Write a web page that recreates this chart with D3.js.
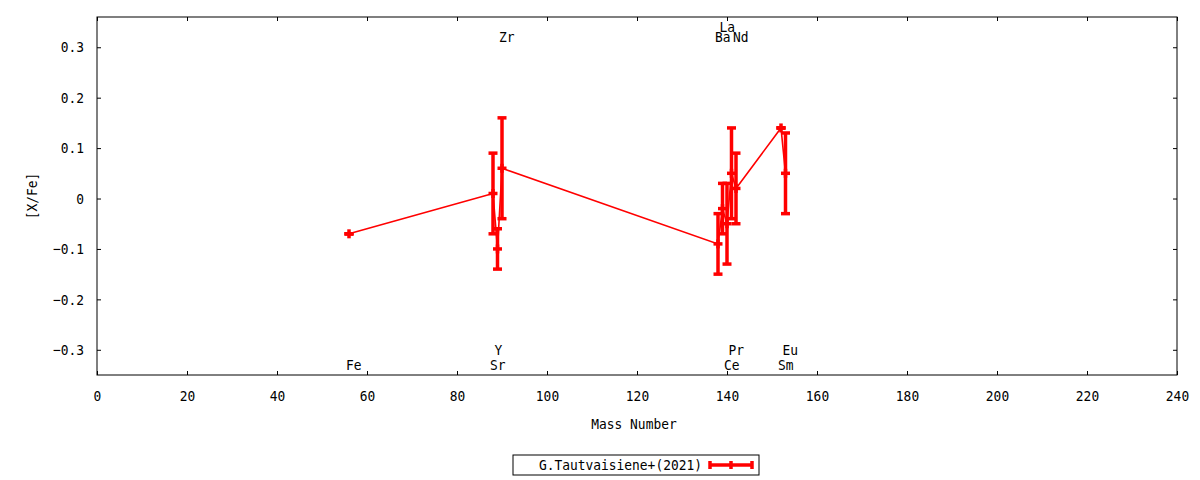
<!DOCTYPE html>
<html>
<head>
<meta charset="utf-8">
<script src="https://cdn.jsdelivr.net/npm/d3@7"></script>
<style>
  body { margin:0; background:#fff; }
  text { font-family:"DejaVu Sans Mono", monospace; font-size:14.5px; fill:#000; }
</style>
</head>
<body>
<svg></svg>
<script>
// values
var elements    = ["Fe","Sr","Y","Zr","Ba","La","Ce","Pr","Nd","Sm","Eu"]
var massNumbers = [56, 88, 89, 90, 138, 139, 140, 141, 142, 152, 153]
var xfeValues   = [-0.07, 0.01, -0.10, 0.06, -0.09, -0.02, -0.05, 0.05, 0.02, 0.14, 0.05]
var xfeErrors   = [0, 0.08, 0.04, 0.10, 0.06, 0.05, 0.08, 0.09, 0.07, 0, 0.08]
// which height the element name sits at (in [X/Fe] units)
var labelRows   = [-0.33, -0.33, -0.30, 0.32, 0.32, 0.34, -0.33, -0.30, 0.32, -0.33, -0.30]
var xTicks = [0,20,40,60,80,100,120,140,160,180,200,220,240]
var yTicks = [-0.3,-0.2,-0.1,0,0.1,0.2,0.3]
var seriesName = "G.Tautvaisiene+(2021)"

var mainCode = function(){
    var screen = {width:1200, height:480}
    var margins = {top:17, right:23, bottom:105, left:97}
    var width = screen.width - margins.left - margins.right
    var height = screen.height - margins.top - margins.bottom
    var red = "#ff0000"

    var svg = d3.select("svg")
        .attr("width", screen.width)
        .attr("height", screen.height)

    var xScale = d3.scaleLinear().domain([0,240]).range([0,width])
    var yScale = d3.scaleLinear().domain([-0.35,0.36]).range([height,0])

    var graph = svg.append("g")
        .attr("id","graph")
        .attr("transform","translate("+margins.left+","+margins.top+")")

    //axes, ticks point inward like gnuplot
    var xAxis = d3.axisBottom(xScale).tickValues(xTicks).tickSize(-4).tickPadding(16)
        .tickFormat(d3.format("d"))
    var yAxis = d3.axisLeft(yScale).tickValues(yTicks).tickSize(-4).tickPadding(13)
        .tickFormat(function(d){return d==0 ? "0" : d3.format(".1f")(d)})
    var xTop = d3.axisTop(xScale).tickValues(xTicks).tickSize(-4).tickFormat("")
    var yRight = d3.axisRight(yScale).tickValues(yTicks).tickSize(-4).tickFormat("")

    graph.append("g").attr("transform","translate(0,"+height+")").call(xAxis)
    graph.append("g").call(yAxis)
    graph.append("g").call(xTop)
    graph.append("g").attr("transform","translate("+width+",0)").call(yRight)
    graph.selectAll(".domain").remove()
    graph.selectAll(".tick line").attr("stroke","#000")
    graph.selectAll(".tick text").style("font-size","14.5px").style("font-family","DejaVu Sans Mono")

    graph.append("rect")
        .attr("width",width).attr("height",height)
        .attr("fill","none").attr("stroke","#000").attr("stroke-width",1)

    //axis titles
    svg.append("text")
        .attr("x", margins.left + width/2 - 3)
        .attr("y", 429)
        .attr("text-anchor","middle")
        .text("Mass Number")
    svg.append("text")
        .attr("transform","translate(37,196) rotate(-90)")
        .attr("text-anchor","middle")
        .text("[X/Fe]")

    var points = elements.map(function(el,i){
        return {name:el, mass:massNumbers[i], val:xfeValues[i], err:xfeErrors[i], row:labelRows[i]}
    })

    //element names
    graph.selectAll(".elabel")
        .data(points)
        .enter()
        .append("text")
        .attr("class","elabel")
        .attr("x", function(p){return xScale(p.mass) - 3})
        .attr("y", function(p){return yScale(p.row)})
        .attr("dy","0.35em")
        .text(function(p){return p.name})

    //connecting line
    var lineGenerator = d3.line()
        .x(function(p){return xScale(p.mass)})
        .y(function(p){return yScale(p.val)})
    graph.append("path")
        .datum(points)
        .attr("d", lineGenerator)
        .attr("fill","none")
        .attr("stroke", red)
        .attr("stroke-width", 1.6)

    //error bars + the plus point marker
    var bars = graph.selectAll(".ebar")
        .data(points)
        .enter()
        .append("g")
        .attr("class","ebar")
        .attr("stroke", red)
        .attr("stroke-width", 3.5)

    bars.append("line")
        .attr("x1", function(p){return xScale(p.mass)})
        .attr("x2", function(p){return xScale(p.mass)})
        .attr("y1", function(p){return yScale(p.val - p.err)})
        .attr("y2", function(p){return yScale(p.val + p.err)})
    ;[-1,0,1].forEach(function(s){
        bars.append("line")
            .attr("x1", function(p){return xScale(p.mass) - 4.5})
            .attr("x2", function(p){return xScale(p.mass) + 4.5})
            .attr("y1", function(p){return yScale(p.val + s*p.err)})
            .attr("y2", function(p){return yScale(p.val + s*p.err)})
    })
    bars.append("line")
        .attr("x1", function(p){return xScale(p.mass)})
        .attr("x2", function(p){return xScale(p.mass)})
        .attr("y1", function(p){return yScale(p.val) - 4.5})
        .attr("y2", function(p){return yScale(p.val) + 4.5})

    //legend box under the plot
    var lx = margins.left + width/2
    var legend = svg.append("g").attr("id","legend")
    legend.append("rect")
        .attr("x", lx - 124).attr("y", 455)
        .attr("width", 246).attr("height", 20)
        .attr("fill","#fff").attr("stroke","#000").attr("stroke-width",1)
    legend.append("text")
        .attr("x", lx + 65).attr("y", 465)
        .attr("dy","0.35em")
        .attr("text-anchor","end")
        .text(seriesName)
    var sx1 = lx + 73, sx2 = lx + 115
    var sample = legend.append("g").attr("stroke", red).attr("stroke-width", 3.5)
    sample.append("line").attr("x1",sx1).attr("x2",sx2).attr("y1",465).attr("y2",465)
    ;[sx1, (sx1+sx2)/2, sx2].forEach(function(x){
        sample.append("line").attr("x1",x).attr("x2",x).attr("y1",461).attr("y2",469)
    })

    //gnuplot's font is narrow and tall, squeeze every text sideways round its anchor
    svg.selectAll("text").each(function(){
        var t = d3.select(this)
        var ax = +t.attr("x") || 0
        var old = t.attr("transform") || ""
        t.attr("transform", old+" translate("+ax+",0) scale(0.89,1) translate("+(-ax)+",0)")
    })
}

mainCode()
</script>
</body>
</html>
